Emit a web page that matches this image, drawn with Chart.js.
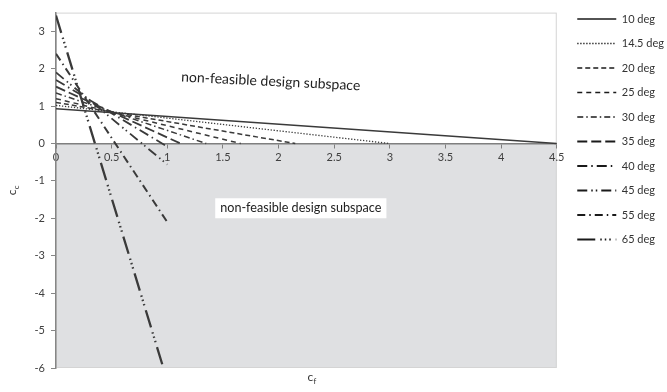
<!DOCTYPE html>
<html>
<head>
<meta charset="utf-8">
<script src="https://cdn.jsdelivr.net/npm/chart.js@4/dist/chart.umd.min.js"></script>
<style>
  html, body { margin: 0; padding: 0; background: #ffffff; }
  #wrap { width: 667px; height: 392px; }
</style>
</head>
<body>
<div id="wrap"><canvas id="c" width="667" height="392"></canvas></div>
<script>
// Design-limit lines: each runs from c_f = 0 to its end point.
const seriesNames = ['10 deg', '14.5 deg', '20 deg', '25 deg', '30 deg', '35 deg', '40 deg', '45 deg', '55 deg', '65 deg'];
const ccAtZero    = [0.93, 1.02, 1.10, 1.20, 1.35, 1.52, 1.70, 1.90, 2.40, 3.42];
const cfEnd       = [4.5, 3.0, 2.15, 1.66, 1.35, 1.12, 1.0, 1.0, 1.0, 0.965];
const ccEnd       = [0, 0, 0, 0, 0, 0, -0.08, -0.56, -2.1, -6];

const xTicks = [0, 0.5, 1, 1.5, 2, 2.5, 3, 3.5, 4, 4.5];
const yTicks = [-6, -5, -4, -3, -2, -1, 0, 1, 2, 3];

const regionLabel = 'non-feasible design subspace';

const FONT = 'Lato, "Open Sans", "Noto Sans", sans-serif';

// line styles, one per series
const dashes = [
  [],
  [1.3, 1.7],
  [5, 3],
  [5, 4],
  [6, 3, 1.5, 3],
  [10, 4],
  [10, 4, 1.5, 4],
  [10, 4, 1.5, 3, 1.5, 4],
  [8, 4, 1.5, 4],
  [18, 5, 1.5, 3, 1.5, 3, 1.5, 5]
];
const widths = [1.5, 1.3, 1.5, 1.5, 1.5, 1.8, 1.8, 1.8, 2, 2.3];

const datasets = seriesNames.map((name, i) => ({
  label: name,
  data: [{ x: 0, y: ccAtZero[i] }, { x: cfEnd[i], y: ccEnd[i] }],
  borderColor: '#3a3a3a',
  borderWidth: widths[i],
  borderDash: dashes[i],
  pointRadius: 0,
  fill: false,
  tension: 0
}));

// shading of the region below c_c = 0, plot outline, and text annotations
const plotDecor = {
  id: 'plotDecor',
  afterLayout(chart) {
    // nudge the legend column a little to the right
    const lg = chart.legend;
    if (lg) { lg.left += 7; lg.right += 7; }
  },
  beforeDraw(chart) {
    const { ctx, chartArea: a, scales } = chart;
    const y0 = scales.y.getPixelForValue(0);
    ctx.save();
    ctx.fillStyle = '#ffffff';
    ctx.fillRect(a.left, a.top, a.right - a.left, y0 - a.top);
    ctx.fillStyle = '#dfe0e2';
    ctx.fillRect(a.left, y0, a.right - a.left, a.bottom - y0);
    ctx.strokeStyle = '#d4d4d4';
    ctx.lineWidth = 1;
    ctx.strokeRect(a.left + 0.5, a.top + 0.5, a.right - a.left - 1, a.bottom - a.top - 1);
    ctx.restore();
  },
  afterDatasetsDraw(chart) {
    const { ctx, scales } = chart;
    const xs = scales.x, ys = scales.y;
    ctx.save();
    // upper label, slightly tilted
    ctx.font = '14px ' + FONT;
    ctx.fillStyle = '#222222';
    ctx.textAlign = 'center';
    ctx.textBaseline = 'middle';
    ctx.translate(xs.getPixelForValue(1.93), ys.getPixelForValue(1.66));
    ctx.rotate(2.8 * Math.PI / 180);
    ctx.fillText(regionLabel, 0, 0);
    ctx.restore();

    // lower label on a white box
    ctx.save();
    ctx.font = '12.6px ' + FONT;
    const cx = xs.getPixelForValue(2.2), cy = ys.getPixelForValue(-1.73);
    const w = ctx.measureText(regionLabel).width;
    ctx.fillStyle = '#ffffff';
    ctx.fillRect(cx - w / 2 - 5, cy - 10, w + 10, 20);
    ctx.fillStyle = '#222222';
    ctx.textAlign = 'center';
    ctx.textBaseline = 'middle';
    ctx.fillText(regionLabel, cx, cy);
    ctx.restore();
  },
  afterDraw(chart) {
    const { ctx, chartArea: a } = chart;
    ctx.save();
    ctx.fillStyle = '#333333';
    // x title: c with subscript f
    const xc = (a.left + a.right) / 2 + 6, yb = 383;
    ctx.font = '12px ' + FONT;
    ctx.textBaseline = 'alphabetic';
    ctx.textAlign = 'left';
    ctx.fillText('c', xc - 5, yb - 2);
    ctx.font = '8px ' + FONT;
    ctx.fillText('f', xc + 1, yb + 1);
    // y title: c with subscript c, rotated
    ctx.translate(16, (a.top + a.bottom) / 2);
    ctx.rotate(-Math.PI / 2);
    ctx.font = '12px ' + FONT;
    ctx.fillText('c', -5, 0);
    ctx.font = '8px ' + FONT;
    ctx.fillText('c', 1, 3);
    ctx.restore();
  }
};

new Chart(document.getElementById('c'), {
  type: 'line',
  data: { datasets },
  plugins: [plotDecor],
  options: {
    responsive: false,
    animation: false,
    devicePixelRatio: 1,
    layout: { padding: { top: 0, bottom: 24, left: 0, right: 0 } },
    plugins: {
      tooltip: { enabled: false },
      // empty spacer above the plot only (keeps the legend column at the very top)
      title: { display: true, text: '', fullSize: false, padding: 0, font: { size: 10, lineHeight: 1 } },
      legend: {
        position: 'right',
        align: 'start',
        labels: {
          usePointStyle: true,
          pointStyle: 'line',
          pointStyleWidth: 39,
          padding: 13.5,
          color: '#333333',
          font: { family: FONT, size: 11 },
          generateLabels(chart) {
            const items = Chart.defaults.plugins.legend.labels.generateLabels(chart);
            items.forEach(it => {
              const ds = chart.data.datasets[it.datasetIndex];
              it.lineDash = ds.borderDash;
              it.lineWidth = Math.min(ds.borderWidth, 2);
              it.strokeStyle = '#1a1a1a';
            });
            return items;
          }
        }
      }
    },
    scales: {
      x: {
        type: 'linear',
        position: { y: 0 },
        min: 0,
        max: 4.5,
        afterBuildTicks(s) { s.ticks = xTicks.map(v => ({ value: v })); },
        ticks: { color: '#404040', font: { family: FONT, size: 11 }, padding: 3, maxRotation: 0,
                 callback: v => String(v) },
        grid: { drawOnChartArea: false, drawTicks: true, tickLength: 4, color: '#7f7f7f' },
        border: { color: '#7f7f7f', width: 1.5 }
      },
      y: {
        type: 'linear',
        min: -6,
        max: 3.5,
        afterBuildTicks(s) { s.ticks = yTicks.map(v => ({ value: v })); },
        afterFit(s) { s.width = 56; },
        ticks: { color: '#404040', font: { family: FONT, size: 11 }, padding: 6,
                 callback: v => String(v) },
        grid: { drawOnChartArea: false, drawTicks: true, tickLength: 5, color: '#868686' },
        border: { color: '#868686', width: 1.5 }
      }
    }
  }
});
</script>
</body>
</html>
